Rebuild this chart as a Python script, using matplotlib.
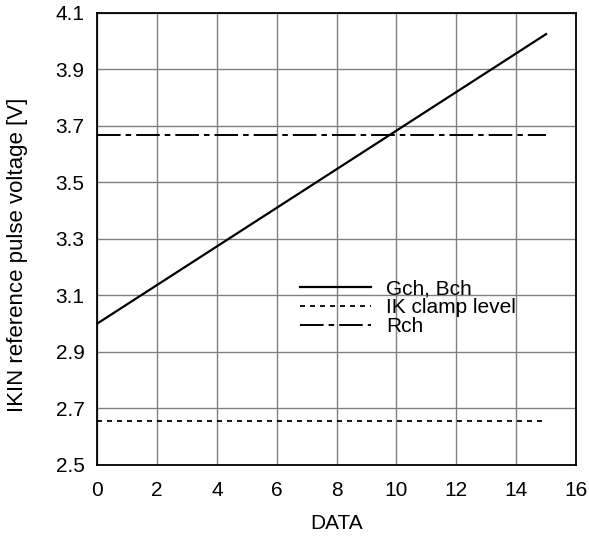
import matplotlib
matplotlib.use("Agg")
import matplotlib.pyplot as plt

plt.rcParams["font.family"] = ["Liberation Sans", "DejaVu Sans"]
plt.rcParams["lines.scale_dashes"] = False

# line endpoints
gch_x = [0, 15]
gch_y = [3.00, 4.025]
clamp_x = [0, 15]
clamp_y = [2.655, 2.655]
rch_x = [0, 15]
rch_y = [3.668, 3.668]

x_ticks = [0, 2, 4, 6, 8, 10, 12, 14, 16]
y_ticks = [2.5, 2.7, 2.9, 3.1, 3.3, 3.5, 3.7, 3.9, 4.1]

fig = plt.figure(figsize=(5.89, 5.38), dpi=100)
ax = fig.add_axes([0.165, 0.136, 0.813, 0.840])

ax.plot(gch_x, gch_y, color="black", linewidth=1.6, label="Gch, Bch")
ax.plot(clamp_x, clamp_y, color="black", linewidth=1.3, dashes=(3.6, 3.6),
        label="IK clamp level")
ax.plot(rch_x, rch_y, color="black", linewidth=1.4,
        dashes=(17, 3.6, 4, 3.6), label="Rch")

ax.set_xlim(0, 16)
ax.set_ylim(2.5, 4.1)
ax.set_xticks(x_ticks)
ax.set_yticks(y_ticks)
ax.set_yticklabels([f"{v:.1f}" for v in y_ticks])
ax.tick_params(length=0, labelsize=15, pad=9)
ax.tick_params(axis="x", pad=12)
ax.grid(color="#808080", linewidth=1.0)
ax.set_axisbelow(True)
for s in ax.spines.values():
    s.set_linewidth(1.3)

ax.set_xlabel("DATA", fontsize=15, labelpad=10)
ax.set_ylabel("IKIN reference pulse voltage [V]", fontsize=16)
ax.yaxis.set_label_coords(-0.145, 0.465)

ax.legend(loc="center left", bbox_to_anchor=(0.424, 0.348), frameon=False,
          fontsize=15, handlelength=3.4, handletextpad=0.72,
          labelspacing=0.0, borderpad=0, borderaxespad=0)

fig.savefig("out.png", dpi=100)
